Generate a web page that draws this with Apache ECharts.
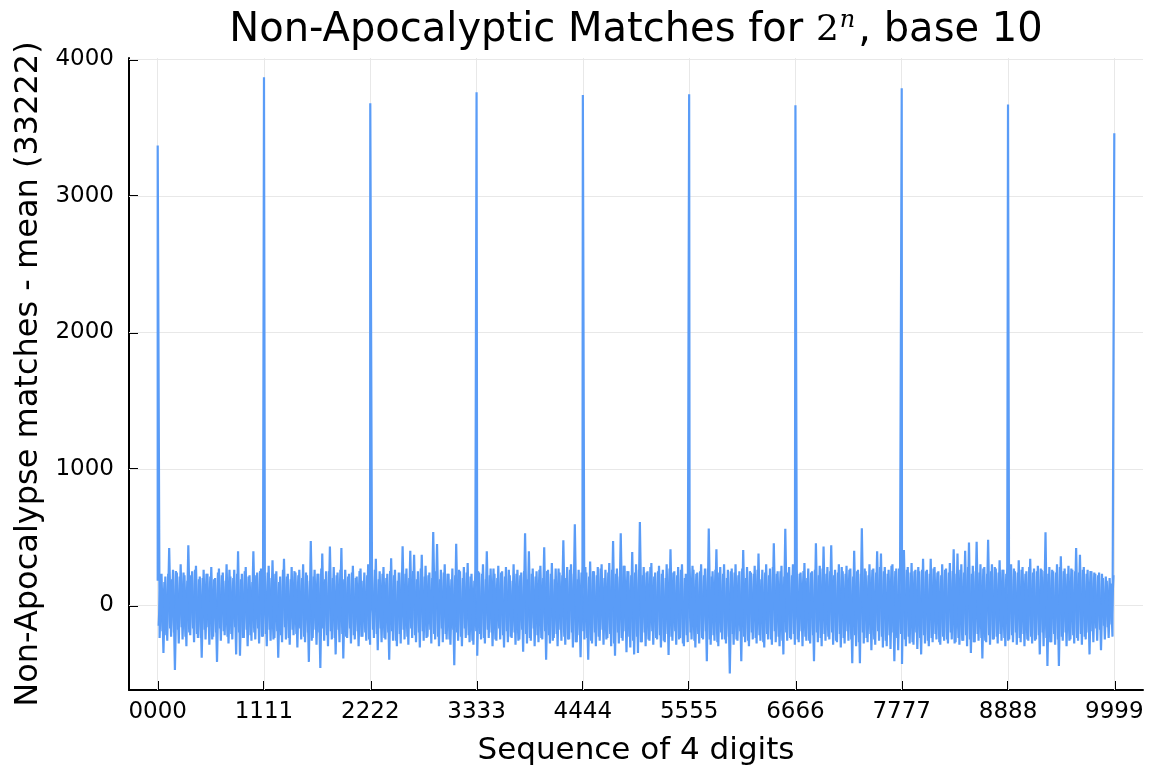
<!DOCTYPE html>
<html>
<head>
<meta charset="utf-8">
<script src="https://cdn.jsdelivr.net/npm/echarts@6/dist/echarts.min.js"></script>
<style>
  html, body { margin: 0; padding: 0; background: #fff; }
  #chart { width: 1166px; height: 777px; }
</style>
</head>
<body>
<div id="chart"></div>
<script>
// tick positions on the x axis (sequence of 4 digits)
const xTicks = [0, 1111, 2222, 3333, 4444, 5555, 6666, 7777, 8888, 9999];
const yTicks = [0, 1000, 2000, 3000, 4000];

// the repdigit sequences stand way out of the noise
const spikeX = [0, 1111, 2222, 3333, 4444, 5555, 6666, 7777, 8888, 9999];
const spikeY = [3370, 3870, 3680, 3760, 3740, 3745, 3665, 3790, 3670, 3460];

// noise band, every 20 sequences (upper / lower envelope alternating)
const noiseStep = 20;
const noise = [
  180,-240,230,-350,210,-260,420,-230,260,-475, 240,-280,300,-250,220,-300,440,-220,250,-270,
  290,-240,210,-385,260,-250,230,-290,280,-230, 200,-415,270,-260,240,-220,300,-280,210,-250,
  260,-360,396,-370,230,-240,280,-300,220,-260,
  396,-250,240,-280,270,-230,220,-300,290,-260, 330,-240,250,-385,210,-270,340,-250,230,-290,
  280,-220,240,-310,260,-250,300,-270,220,-415, 470,-240,260,-290,230,-460,380,-260,250,-300,
  430,-250,280,-360,240,-270,420,-390,260,-240,
  230,-280,290,-250,210,-300,270,-230,240,-260, 300,-290,220,-240,340,-330,250,-270,280,-250,
  230,-400,345,-260,260,-300,240,-280,433,-250, 270,-290,400,-240,370,-270,250,-310,370,-260,
  290,-230,240,-280,536,-250,448,-300,260,-270,
  300,-250,230,-290,270,-440,450,-260,250,-300, 280,-240,310,-270,230,-290,260,-370,240,-250,
  300,-280,396,-240,270,-300,230,-260,290,-250, 250,-310,280,-270,220,-240,300,-290,260,-250,
  240,-340,528,-280,396,-260,270,-300,250,-270,
  290,-250,425,-400,260,-280,310,-240,270,-300, 240,-260,477,-290,280,-250,300,-310,594,-270,
  260,-380,290,-250,240,-400,320,-280,250,-300, 280,-260,300,-290,260,-240,310,-300,470,-370,
  270,-280,528,-260,290,-345,250,-310,390,-360,
  300,-350,610,-270,280,-300,250,-260,310,-290, 240,-250,290,-310,260,-270,300,-365,410,-260,
  250,-290,280,-240,300,-300,230,-270,290,-250, 260,-310,240,-280,300,-250,270,-410,563,-290,
  250,-260,410,-300,280,-250,300,-280,260,-500,
  270,-290,300,-260,250,-410,405,-270,280,-300, 240,-250,290,-280,380,-260,260,-310,300,-250,
  270,-290,455,-270,250,-300,290,-360,560,-260, 280,-250,300,-290,260,-270,240,-300,310,-260,
  270,-280,250,-410,455,-270,290,-300,430,-260,
  280,-250,440,-290,260,-270,300,-310,250,-280, 290,-260,270,-425,400,-300,260,-425,565,-280,
  250,-270,300,-330,270,-290,395,-260,380,-310, 280,-300,260,-320,300,-410,270,-330,290,-430,
  405,-300,280,-280,310,-290,260,-320,250,-360,
  340,-280,260,-300,340,-270,280,-250,250,-290, 300,-260,270,-280,310,-250,410,-270,380,-290,
  300,-260,400,-300,460,-350,290,-270,465,-260, 300,-390,280,-270,480,-290,300,-250,270,-280,
  330,-260,260,-300,280,-250,300,-270,250,-290,
  330,-270,280,-300,250,-260,340,-280,270,-250, 290,-360,260,-300,535,-445,280,-270,250,-290,
  300,-445,360,-260,270,-300,290,-250,260,-280, 420,-260,370,-290,280,-250,260,-360,250,-270,
  230,-260,240,-330,200,-250,180,-240,160,-230
];

// second pass of the band, read halfway between the points above (x = 20*i + 10)
const noise2 = [
  -150,200,-190,170,-220,230,-170,190,-200,250, -180,210,-160,240,-230,180,-200,220,-170,260,
  -210,190,-240,200,-180,230,-160,210,-250,190, -200,240,-170,220,-190,180,-230,260,-210,200,
  -160,230,-200,190,-240,250,-180,210,-220,170,
  -200,220,-170,250,-230,190,-210,240,-180,200, -250,230,-190,170,-220,260,-160,210,-240,190,
  -180,250,-210,220,-170,200,-230,240,-200,180, -260,210,-180,230,-200,270,-170,190,-220,250,
  -190,200,-240,220,-180,260,-210,190,-230,210,
  -170,240,-220,200,-190,250,-230,180,-200,220, -250,210,-180,260,-210,190,-170,230,-240,200,
  -200,250,-190,220,-260,180,-210,240,-180,230, -230,200,-170,250,-220,190,-200,270,-190,210,
  -240,220,-180,200,-210,250,-230,190,-170,240,
  -210,230,-250,190,-180,220,-200,260,-230,200, -170,240,-220,210,-260,180,-190,250,-210,230,
  -240,190,-180,220,-200,270,-250,200,-170,240, -220,210,-190,260,-230,180,-200,230,-260,220,
  -180,250,-210,190,-240,230,-170,210,-220,260,
  -240,200,-190,250,-220,230,-260,190,-210,270, -180,220,-230,200,-250,260,-200,230,-270,190,
  -220,240,-190,280,-240,210,-260,250,-200,220, -230,270,-180,200,-250,240,-210,260,-280,230,
  -200,210,-240,290,-190,250,-230,220,-260,240,
  -230,260,-270,220,-200,240,-250,280,-190,210, -240,250,-220,230,-260,200,-210,270,-230,240,
  -190,220,-250,260,-280,200,-220,240,-200,290, -260,230,-210,250,-240,220,-190,270,-250,210,
  -220,260,-270,240,-200,230,-250,200,-230,250,
  -210,240,-250,220,-190,270,-230,200,-260,250, -200,230,-240,260,-220,190,-270,240,-210,220,
  -250,280,-190,230,-230,250,-260,210,-200,240, -240,220,-210,270,-250,230,-190,250,-230,200,
  -260,240,-220,260,-200,220,-240,270,-210,230,
  -230,250,-200,220,-260,240,-210,280,-240,230, -190,260,-250,210,-220,250,-270,230,-200,270,
  -240,220,-210,260,-250,240,-190,280,-230,250, -260,230,-220,290,-200,250,-240,270,-210,300,
  -250,260,-230,240,-270,250,-200,280,-240,260,
  -220,250,-260,230,-240,270,-210,240,-270,220, -230,260,-250,240,-200,250,-280,230,-240,260,
  -260,240,-220,280,-250,230,-270,250,-210,240, -240,270,-260,230,-220,250,-250,280,-230,240,
  -210,260,-240,230,-260,250,-220,270,-200,240,
  -240,260,-210,230,-250,280,-230,240,-260,250, -220,270,-200,250,-240,230,-270,260,-210,240,
  -250,280,-230,250,-200,230,-260,270,-220,250, -240,240,-210,260,-230,230,-200,250,-190,240,
  -170,220,-180,230,-150,210,-160,200,-140,220
];

const points = noise.map((v, i) => [i * noiseStep, v])
  .concat(spikeX.map((x, i) => [x, spikeY[i]]))
  .sort((a, b) => a[0] - b[0]);
const points2 = noise2.map((v, i) => [i * noiseStep + noiseStep / 2, v]);

const chart = echarts.init(document.getElementById('chart'));

const lineColor = '#5a9cf7';
const gridColor = '#e8e8e8';
const font = 'DejaVu Sans';

chart.setOption({
  animation: false,
  backgroundColor: '#fff',
  title: {
    left: 631,
    top: 4,
    textAlign: 'center',
    text: '{t|Non-Apocalyptic Matches for }{m|2}{s|n}{t|, base 10}',
    textStyle: {
      fontWeight: 'normal',
      rich: {
        t: { fontFamily: font, fontSize: 40, fontWeight: 'normal', color: '#000' },
        m: { fontFamily: 'DejaVu Serif', fontSize: 36, fontWeight: 'normal', color: '#000' },
        s: { fontFamily: 'DejaVu Serif', fontStyle: 'italic', fontWeight: 'normal', fontSize: 24, color: '#000', padding: [0, 3, 20, 1] }
      }
    }
  },
  grid: { left: 129, right: 23, top: 58, bottom: 87, outerBoundsMode: 'none' },
  xAxis: {
    type: 'value',
    min: -300,
    max: 10299,
    name: 'Sequence of 4 digits',
    nameLocation: 'middle',
    nameGap: 45,
    nameTextStyle: { fontFamily: font, fontSize: 31, color: '#000' },
    axisLine: { show: true, onZero: false, lineStyle: { color: '#000', width: 2 } },
    axisTick: { inside: true, length: 9, customValues: xTicks, lineStyle: { color: '#000', width: 2 } },
    axisLabel: {
      customValues: xTicks,
      fontFamily: font, fontSize: 23, color: '#000', margin: 11,
      formatter: v => String(v).padStart(4, '0')
    },
    splitLine: { show: false }
  },
  yAxis: {
    type: 'value',
    min: -621,
    max: 4011,
    name: 'Non-Apocalypse matches - mean (33222)',
    nameLocation: 'middle',
    nameGap: 84,
    nameTextStyle: { fontFamily: font, fontSize: 32, color: '#000' },
    axisLine: { show: true, onZero: false, lineStyle: { color: '#000', width: 2 } },
    axisTick: { inside: true, length: 9, customValues: yTicks, lineStyle: { color: '#000', width: 2 } },
    axisLabel: {
      customValues: yTicks, fontFamily: font, fontSize: 23, color: '#000', margin: 15,
      formatter: v => String(v)
    },
    splitLine: { show: false }
  },
  series: [
    {
      type: 'line',
      data: points2,
      showSymbol: false,
      symbol: 'none',
      sampling: null,
      lineStyle: { color: lineColor, width: 2.2 },
      z: 2
    },
    {
      type: 'line',
      data: points,
      showSymbol: false,
      symbol: 'none',
      sampling: null,
      lineStyle: { color: lineColor, width: 2.2 },
      z: 3,
      markLine: {
        silent: true,
        symbol: 'none',
        label: { show: false },
        lineStyle: { color: gridColor, width: 1, type: 'solid' },
        z: 1,
        data: xTicks.map(v => ({ xAxis: v })).concat(yTicks.map(v => ({ yAxis: v })))
      }
    }
  ]
});
</script>
</body>
</html>
